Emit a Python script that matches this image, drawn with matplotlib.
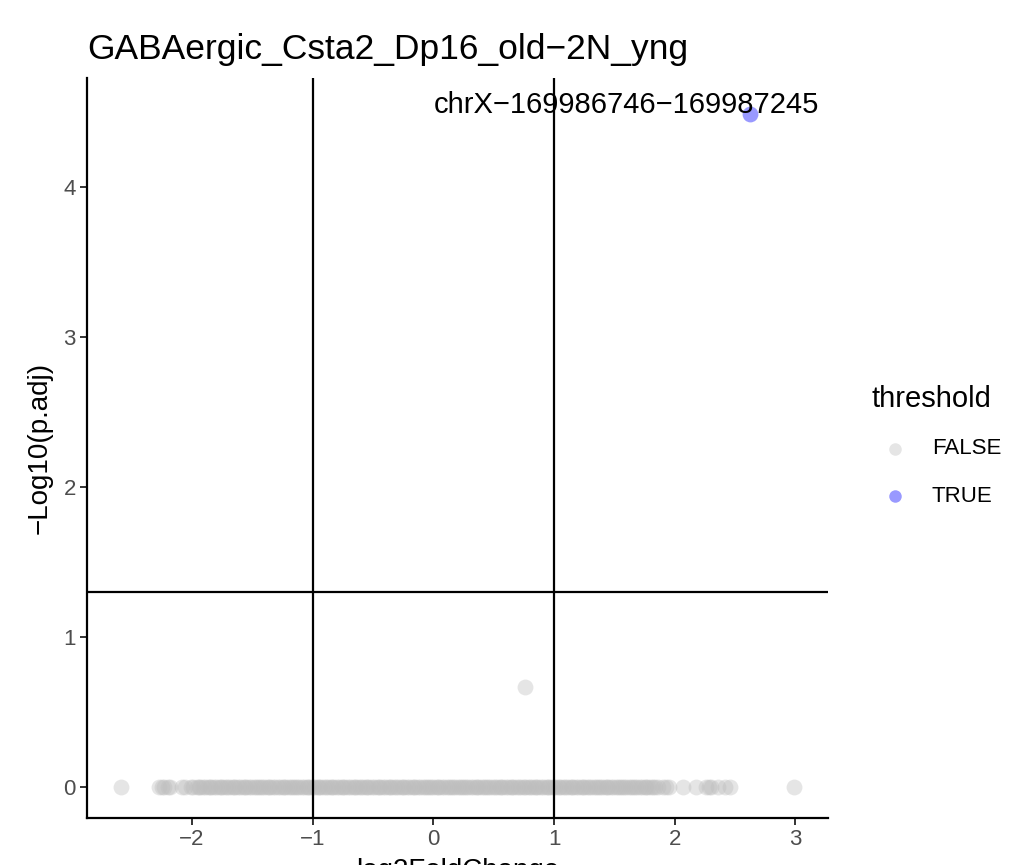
import matplotlib
matplotlib.use("Agg")
import matplotlib.pyplot as plt
from matplotlib.lines import Line2D

plt.rcParams['font.family'] = ['Liberation Sans', 'DejaVu Sans']

title = "GABAergic_Csta2_Dp16_old\u22122N_yng"
peak_label = "chrX\u2212169986746\u2212169987245"
legend_title = "threshold"
legend_labels = ["FALSE", "TRUE"]

# log2FoldChange of peaks with p.adj ~ 1 (the grey band at y = 0)
fc_band = [
    -2.59, -2.27, -2.25, -2.23, -2.20, -2.18, -2.08, -2.06, -2.01, -1.99,
    -1.96, -1.94, -1.93, -1.91, -1.89, -1.87, -1.85, -1.84, -1.82, -1.80,
    -1.78, -1.76, -1.75, -1.73, -1.71, -1.69, -1.67, -1.65, -1.64, -1.62,
    -1.60, -1.58, -1.56, -1.55, -1.53, -1.51, -1.49, -1.47, -1.45, -1.44,
    -1.42, -1.40, -1.38, -1.36, -1.35, -1.33, -1.31, -1.29, -1.27, -1.25,
    -1.24, -1.22, -1.20, -1.18, -1.16, -1.15, -1.13, -1.11, -1.09, -1.07,
    -1.05, -1.04, -1.02, -1.00, -0.98, -0.96, -0.95, -0.93, -0.91, -0.89,
    -0.87, -0.85, -0.84, -0.82, -0.80, -0.78, -0.76, -0.75, -0.73, -0.71,
    -0.69, -0.67, -0.65, -0.64, -0.62, -0.60, -0.58, -0.56, -0.55, -0.53,
    -0.51, -0.49, -0.47, -0.45, -0.44, -0.42, -0.40, -0.38, -0.36, -0.35,
    -0.33, -0.31, -0.29, -0.27, -0.25, -0.24, -0.22, -0.20, -0.18, -0.16,
    -0.15, -0.13, -0.11, -0.09, -0.07, -0.05, -0.04, -0.02, 0.00, 0.02,
    0.04, 0.05, 0.07, 0.09, 0.11, 0.13, 0.15, 0.16, 0.18, 0.20,
    0.22, 0.24, 0.25, 0.27, 0.29, 0.31, 0.33, 0.35, 0.36, 0.38,
    0.40, 0.42, 0.44, 0.45, 0.47, 0.49, 0.51, 0.53, 0.55, 0.56,
    0.58, 0.60, 0.62, 0.64, 0.65, 0.67, 0.69, 0.71, 0.73, 0.75,
    0.76, 0.78, 0.80, 0.82, 0.84, 0.85, 0.87, 0.89, 0.91, 0.93,
    0.95, 0.96, 0.98, 1.00, 1.02, 1.04, 1.05, 1.07, 1.09, 1.11,
    1.13, 1.15, 1.16, 1.18, 1.20, 1.22, 1.24, 1.25, 1.27, 1.29,
    1.31, 1.33, 1.35, 1.36, 1.38, 1.40, 1.42, 1.44, 1.45, 1.47,
    1.49, 1.51, 1.53, 1.55, 1.56, 1.58, 1.60, 1.62, 1.64, 1.65,
    1.67, 1.69, 1.71, 1.73, 1.75, 1.76, 1.78, 1.80, 1.82, 1.84, 1.86,
    1.90, 1.93, 1.95, 2.07, 2.18, 2.26, 2.28, 2.30, 2.36, 2.42, 2.46, 2.99,
]
nlp_band = [0.0] * len(fc_band)

# other non-significant peak
fc_other = [0.76]
nlp_other = [0.67]

# significant peak
fc_sig = [2.62]
nlp_sig = [4.49]

fc_false = fc_band + fc_other
nlp_false = nlp_band + nlp_other

col_false = '#bebebe'
col_true = 'blue'

fig = plt.figure(figsize=(10.14, 8.65), dpi=100)
ax = fig.add_axes([0.0858, 0.0543, 0.7308, 0.8555])

ax.scatter(fc_false, nlp_false, s=130, color=col_false, alpha=0.4, linewidths=0, zorder=2)
ax.scatter(fc_sig, nlp_sig, s=130, color=col_true, alpha=0.4, linewidths=0, zorder=2)

ax.axvline(-1, color='black', lw=1.6, zorder=3)
ax.axvline(1, color='black', lw=1.6, zorder=3)
ax.axhline(1.30103, color='black', lw=1.6, zorder=3)

ax.text(1.6, 4.55, peak_label, ha='center', va='center', fontsize=21, color='black', zorder=4)

ax.set_xlim(-2.87, 3.27)
ax.set_ylim(-0.207, 4.73)
ax.set_xticks([-2, -1, 0, 1, 2, 3])
ax.set_xticklabels(['\u22122', '\u22121', '0', '1', '2', '3'])
ax.set_yticks([0, 1, 2, 3, 4])

for s in ['top', 'right']:
    ax.spines[s].set_visible(False)
for s in ['left', 'bottom']:
    ax.spines[s].set_linewidth(1.6)
    ax.spines[s].set_color('black')
ax.tick_params(axis='both', length=5, width=1.4, color='#333333',
               labelsize=16, labelcolor='#4d4d4d', pad=3)

ax.set_xlabel('log2FoldChange', fontsize=20, labelpad=6)
ax.set_ylabel('\u2212Log10(p.adj)', fontsize=20, labelpad=8)
ax.set_title(title, fontsize=25.5, loc='left', pad=14, x=0.0)

# legend drawn by hand in figure coordinates
fig.text(872 / 1014, 1 - 407 / 865, legend_title, fontsize=21, ha='left', va='baseline')
leg_y = [1 - 449 / 865, 1 - 496 / 865]
for lab, col, yy in zip(legend_labels, [col_false, col_true], leg_y):
    fig.add_artist(Line2D([895 / 1014], [yy], transform=fig.transFigure, marker='o', ls='',
                          color=col, alpha=0.4, markersize=9, markeredgewidth=0))
    fig.text(932 / 1014, yy, lab, fontsize=16, ha='left', va='center')

fig.savefig('out.png', dpi=100)
